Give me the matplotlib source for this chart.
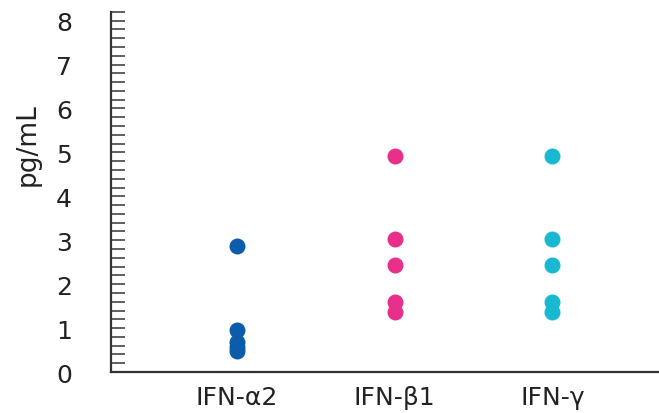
import numpy as np
import matplotlib.pyplot as plt
from matplotlib.ticker import MultipleLocator

# données
categories = ["IFN-α2", "IFN-β1", "IFN-γ"]
ifn_a2 = [2.86, 0.96, 0.68, 0.57, 0.48]
ifn_b1 = [4.91, 3.03, 2.44, 1.60, 1.37]
ifn_g = [4.91, 3.03, 2.44, 1.60, 1.37]
couleurs = ["#0b5cab", "#e8308a", "#17b8d0"]

plt.rcParams['font.family'] = ['DejaVu Sans']

fig = plt.figure(figsize=(6.59, 4.14), dpi=100)
ax = fig.add_axes([0.168, 0.099, 0.832, 0.870])

for i, vals in enumerate([ifn_a2, ifn_b1, ifn_g]):
    ax.plot([i] * len(vals), vals, 'o', color=couleurs[i], markersize=11.5,
            markeredgewidth=0, clip_on=False)

ax.set_xlim(-0.8, 2.675)
ax.set_ylim(0, 8.2)
ax.set_xticks(range(len(categories)))
ax.set_xticklabels(categories, fontsize=18, color="#222222")
ax.set_yticks(range(0, 9))
ax.tick_params(axis='y', labelsize=18, labelcolor="#222222", direction='in',
               length=10, width=1.2, color="#444444", pad=28)
ax.yaxis.set_minor_locator(MultipleLocator(0.2))
ax.tick_params(axis='y', which='minor', direction='in', length=10, width=1.2,
               color="#444444")
ax.tick_params(axis='x', length=0, pad=9)

ax.set_ylabel("pg/mL", fontsize=19, color="#222222")
ax.yaxis.set_label_coords(-0.128, 0.635)

for s in ["top", "right"]:
    ax.spines[s].set_visible(False)
for s in ["left", "bottom"]:
    ax.spines[s].set_linewidth(1.6)
    ax.spines[s].set_color("#333333")

fig.savefig("out.png", dpi=100)
